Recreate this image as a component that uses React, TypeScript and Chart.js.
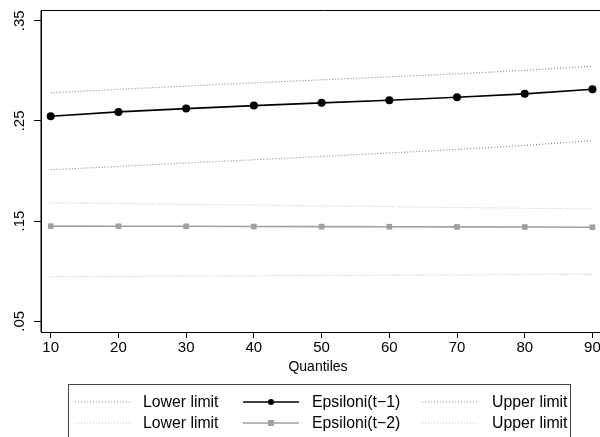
import React, { useEffect, useRef } from "react";
import { Chart, registerables } from "chart.js";

Chart.register(...registerables);

const quantiles = [10, 20, 30, 40, 50, 60, 70, 80, 90];
const xTicks = [10, 20, 30, 40, 50, 60, 70, 80, 90];
const yTicks = [0.05, 0.15, 0.25, 0.35];
const yTickLabels = [".05", ".15", ".25", ".35"];

const eps1 = [0.2546, 0.259, 0.2623, 0.2653, 0.268, 0.2706, 0.2736, 0.277, 0.2816];
const lower1 = [0.2013, 0.2045, 0.208, 0.2112, 0.2145, 0.218, 0.2215, 0.2255, 0.2303];
const upper1 = [0.278, 0.2815, 0.2848, 0.288, 0.291, 0.294, 0.297, 0.3005, 0.3046];
const eps2 = [0.145, 0.1449, 0.1448, 0.1446, 0.1445, 0.1444, 0.1442, 0.1441, 0.1439];
const lower2 = [0.0945, 0.0948, 0.0951, 0.0954, 0.0957, 0.096, 0.0963, 0.0966, 0.0969];
const upper2 = [0.1683, 0.1675, 0.1667, 0.166, 0.1652, 0.1644, 0.1636, 0.1628, 0.162];

const FONT = "'Liberation Sans', Arial, Helvetica, sans-serif";
const W = 620;
const H = 437;

const pts = (arr: number[]) => quantiles.map((q, i) => ({ x: q, y: arr[i] }));

export default function App() {
  const ref = useRef<HTMLCanvasElement | null>(null);

  useEffect(() => {
    if (!ref.current) return;
    const dotted = (label: string, data: number[], color: string) => ({
      label,
      data: pts(data),
      borderColor: color,
      backgroundColor: color,
      borderWidth: 1.2,
      borderDash: [1, 2],
      pointRadius: 0,
      fill: false,
      tension: 0,
    });

    const frameAndAxes = {
      id: "frameAndAxes",
      afterDraw(chart: any) {
        const { ctx, chartArea, scales } = chart;
        ctx.save();
        ctx.strokeStyle = "#000";
        ctx.lineWidth = 1;
        ctx.beginPath();
        ctx.moveTo(chartArea.left, chartArea.bottom);
        ctx.lineTo(chartArea.left, chartArea.top + 0.5);
        ctx.lineTo(chartArea.right, chartArea.top + 0.5);
        ctx.stroke();
        // rotated y labels
        ctx.fillStyle = "#000";
        ctx.font = `15px ${FONT}`;
        ctx.textAlign = "center";
        ctx.textBaseline = "middle";
        yTicks.forEach((v, i) => {
          const y = scales.y.getPixelForValue(v);
          ctx.save();
          ctx.translate(20, y);
          ctx.rotate(-Math.PI / 2);
          ctx.fillText(yTickLabels[i], 0, 0);
          ctx.restore();
        });
        // x title
        ctx.font = `14px ${FONT}`;
        ctx.fillText("Quantiles", 318, 367);
        // legend
        const boxL = 68.5, boxT = 384.5, boxR = 570.5;
        ctx.strokeStyle = "#444";
        ctx.lineWidth = 1;
        ctx.strokeRect(boxL, boxT, boxR - boxL, 80);
        const cols = [
          { x0: 75, x1: 130, tx: 143 },
          { x0: 243, x1: 299, tx: 312 },
          { x0: 422, x1: 477, tx: 492 },
        ];
        const rows = [402, 423];
        const order = [
          [0, 1, 2],
          [3, 4, 5],
        ];
        ctx.font = `15.8px ${FONT}`;
        ctx.textAlign = "left";
        order.forEach((r, ri) => {
          r.forEach((di, ci) => {
            const ds = chart.data.datasets[di];
            const c = cols[ci];
            const y = rows[ri];
            ctx.save();
            ctx.strokeStyle = ds.borderColor;
            ctx.lineWidth = ds.borderWidth;
            ctx.setLineDash(ds.borderDash || []);
            ctx.beginPath();
            ctx.moveTo(c.x0, y);
            ctx.lineTo(c.x1, y);
            ctx.stroke();
            ctx.setLineDash([]);
            const mx = (c.x0 + c.x1) / 2;
            if (ds.pointStyle === "circle") {
              ctx.fillStyle = ds.pointBackgroundColor;
              ctx.beginPath();
              ctx.arc(mx, y, 3, 0, Math.PI * 2);
              ctx.fill();
            } else if (ds.pointStyle === "rect") {
              ctx.fillStyle = ds.pointBackgroundColor;
              ctx.fillRect(mx - 3, y - 3, 6, 6);
            }
            ctx.restore();
            ctx.fillStyle = "#000";
            ctx.fillText(ds.label, c.tx, y + 1);
          });
        });
        ctx.restore();
      },
    };

    const chart = new Chart(ref.current, {
      type: "line",
      data: {
        datasets: [
          dotted("Lower limit", lower1, "#8a8a8a"),
          {
            label: "Epsiloni(t\u22121)",
            data: pts(eps1),
            borderColor: "#000",
            backgroundColor: "#000",
            pointBackgroundColor: "#000",
            pointBorderColor: "#000",
            pointStyle: "circle",
            pointRadius: 4,
            pointBorderWidth: 0,
            borderWidth: 1.6,
            tension: 0,
          } as any,
          dotted("Upper limit", upper1, "#8a8a8a"),
          dotted("Lower limit", lower2, "#c4c4c4"),
          {
            label: "Epsiloni(t\u22122)",
            data: pts(eps2),
            borderColor: "#a0a0a0",
            backgroundColor: "#a0a0a0",
            pointBackgroundColor: "#a0a0a0",
            pointBorderColor: "#a0a0a0",
            pointStyle: "rect",
            pointRadius: 4,
            pointBorderWidth: 0,
            borderWidth: 1.6,
            tension: 0,
          } as any,
          dotted("Upper limit", upper2, "#c4c4c4"),
        ],
      },
      options: {
        responsive: false,
        animation: false,
        maintainAspectRatio: false,
        layout: { padding: { left: 0, top: 10, right: W - 606, bottom: 0 } },
        plugins: { legend: { display: false }, tooltip: { enabled: false } },
        scales: {
          x: {
            type: "linear",
            min: 8.567,
            max: 92,
            afterBuildTicks: (s: any) => {
              s.ticks = xTicks.map((v) => ({ value: v }));
            },
            afterFit: (s: any) => {
              s.height = H - 332;
            },
            border: { display: true, color: "#000", width: 1 },
            grid: { display: true, drawOnChartArea: false, drawTicks: true, tickLength: 6, color: "#000" },
            ticks: {
              color: "#000",
              font: { family: FONT, size: 15 },
              padding: 1,
              maxRotation: 0,
              minRotation: 0,
              autoSkip: false,
            },
          },
          y: {
            type: "linear",
            min: 0.0393,
            max: 0.3607,
            afterBuildTicks: (s: any) => {
              s.ticks = yTicks.map((v) => ({ value: v }));
            },
            afterFit: (s: any) => {
              s.width = 41;
            },
            border: { display: true, color: "#000", width: 1 },
            grid: { display: true, drawOnChartArea: false, drawTicks: true, tickLength: 7, color: "#000" },
            ticks: { display: false },
          },
        },
      },
      plugins: [frameAndAxes],
    });
    return () => chart.destroy();
  }, []);

  return (
    <div
      style={{
        position: "fixed",
        left: 0,
        top: 0,
        width: 600,
        height: H,
        overflow: "hidden",
        background: "#fff",
      }}
    >
      <canvas ref={ref} width={W} height={H} style={{ width: W, height: H, display: "block" }} />
    </div>
  );
}
